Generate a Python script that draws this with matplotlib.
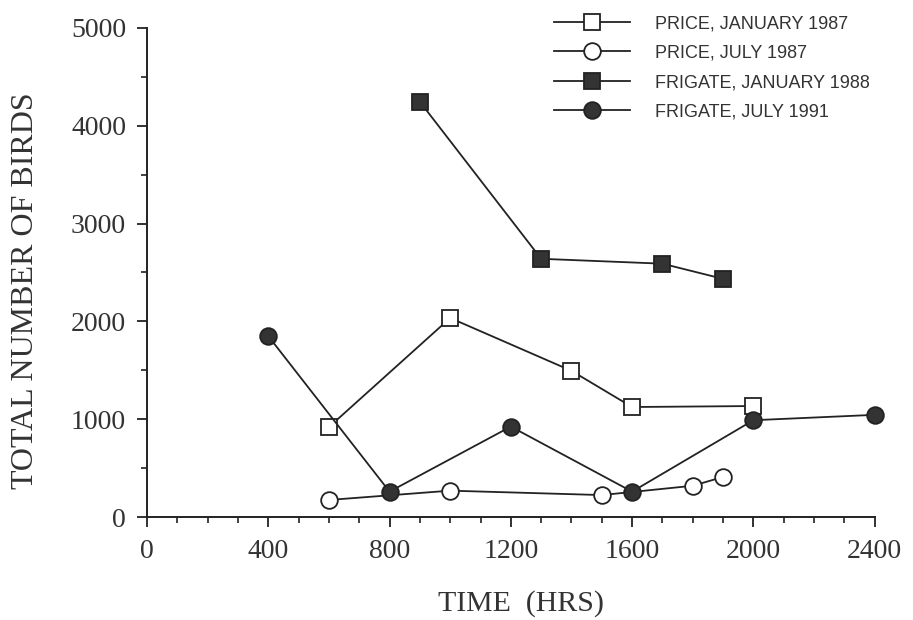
import matplotlib
matplotlib.use("Agg")
import matplotlib.pyplot as plt
from matplotlib.ticker import MultipleLocator

# Data
price_jan87_x = [600, 1000, 1400, 1600, 2000]
price_jan87_y = [920, 2035, 1495, 1125, 1135]
price_jul87_x = [600, 1000, 1500, 1800, 1900]
price_jul87_y = [175, 270, 225, 320, 410]
frig_jan88_x = [900, 1300, 1700, 1900]
frig_jan88_y = [4245, 2640, 2590, 2435]
frig_jul91_x = [400, 800, 1200, 1600, 2000, 2400]
frig_jul91_y = [1850, 260, 925, 260, 990, 1045]

labels = ["PRICE, JANUARY 1987", "PRICE, JULY 1987",
          "FRIGATE, JANUARY 1988", "FRIGATE, JULY 1991"]
x_ticks = [0, 400, 800, 1200, 1600, 2000, 2400]
y_ticks = [0, 1000, 2000, 3000, 4000, 5000]

ink = "#222222"
fill = "#333333"
serif = ["Liberation Serif", "DejaVu Serif"]

fig = plt.figure(figsize=(9.13, 6.2), dpi=100)
ax = fig.add_axes([0.161, 0.166, 0.797, 0.789])

common = dict(color=ink, lw=1.3, mew=1.3, clip_on=False, zorder=3)
l1, = ax.plot(price_jan87_x, price_jan87_y, marker="s", ms=12, mfc="white", mec=ink, label=labels[0], **common)
l2, = ax.plot(price_jul87_x, price_jul87_y, marker="o", ms=12, mfc="white", mec=ink, label=labels[1], **common)
l3, = ax.plot(frig_jan88_x, frig_jan88_y, marker="s", ms=12, mfc=fill, mec=ink, label=labels[2], **common)
l4, = ax.plot(frig_jul91_x, frig_jul91_y, marker="o", ms=12, mfc=fill, mec=ink, label=labels[3], **common)

ax.set_xlim(0, 2400)
ax.set_ylim(0, 5000)
ax.spines["top"].set_visible(False)
ax.spines["right"].set_visible(False)
for s in ("left", "bottom"):
    ax.spines[s].set_color(ink)
    ax.spines[s].set_linewidth(1.4)

ax.set_xticks(x_ticks)
ax.set_xticklabels([str(v) for v in x_ticks])
ax.set_yticks(y_ticks)
ax.set_yticklabels([str(v) for v in y_ticks])
ax.xaxis.set_minor_locator(MultipleLocator(100))
ax.yaxis.set_minor_locator(MultipleLocator(500))
ax.tick_params(axis="both", which="major", direction="out", length=7, width=1.3, color=ink, labelcolor="#333333")
ax.tick_params(axis="both", which="minor", direction="out", length=4, width=1.2, color=ink)
ax.tick_params(axis="x", which="major", pad=9)
ax.tick_params(axis="y", which="major", pad=8)
for t in ax.get_xticklabels() + ax.get_yticklabels():
    t.set_fontfamily(serif)
    t.set_fontsize(20)

ax.set_xlabel("TIME  (HRS)", fontfamily=serif, fontsize=21.5, color="#333333")
ax.set_ylabel("TOTAL NUMBER OF BIRDS", fontfamily=serif, fontsize=23, color="#333333")
ax.xaxis.set_label_coords(0.514, -0.150)
ax.yaxis.set_label_coords(-0.147, 0.462)

leg = fig.legend(handles=[l1, l2, l3, l4], loc="upper left", bbox_to_anchor=(0.607, 0.975),
                 frameon=False, prop={"family": ["Liberation Sans", "DejaVu Sans"], "size": 13},
                 handlelength=4.2, handletextpad=1.4, labelspacing=0.68, borderaxespad=0, borderpad=0)
for t in leg.get_texts():
    t.set_color("#333333")

fig.savefig("out.png", dpi=100, facecolor="white")
